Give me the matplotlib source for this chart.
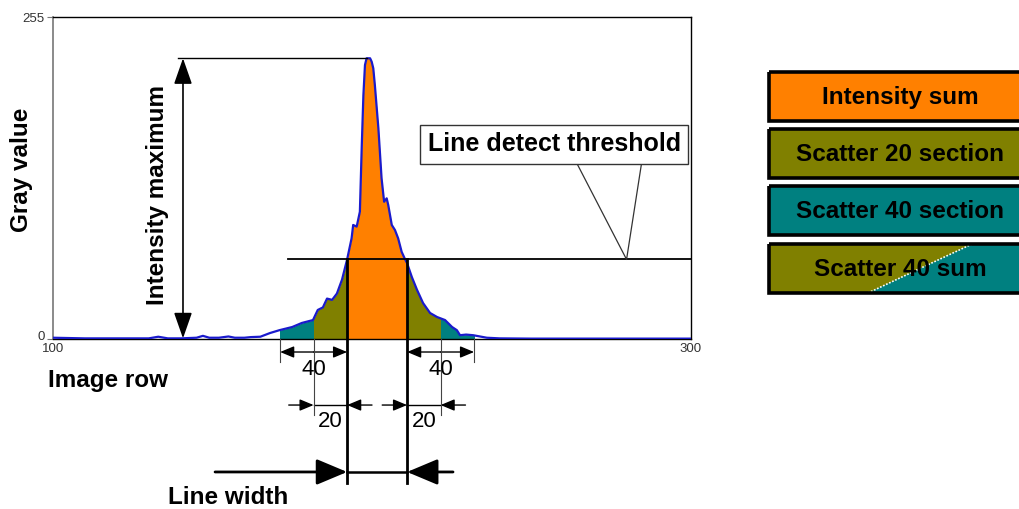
import numpy as np
import matplotlib
matplotlib.use("Agg")
import matplotlib.pyplot as plt
import matplotlib.transforms as mtransforms
from matplotlib.patches import Rectangle, Polygon

plt.rcParams['font.family'] = ['Liberation Sans', 'DejaVu Sans']

# ---------------- data ----------------
rows = [100, 110, 120, 130, 133, 136, 140, 145, 147, 149, 152, 155, 157, 160, 162,
        165, 168, 171, 175, 178, 181.5, 183, 184.6, 185.9, 187.5, 189, 190.6, 192.2,
        193.6, 194.1, 195.2, 196.2, 196.8, 197.3, 197.8, 198.3, 199.4, 199.9, 200.4,
        200.9, 202.0, 203.0, 203.8, 204.6, 205.1, 206.2, 207.2, 208.2, 209.3, 210.3,
        211, 212.5, 214.1, 216, 218.2,
        220.4, 222.9, 225.1, 226.6, 227.6, 229.5, 231.7, 236, 240, 250, 260, 280, 300]
gray = [1, 0.5, 0.5, 0.5, 1.8, 0.5, 0.5, 1, 2.5, 1, 1, 2, 1, 1, 1.5,
        1.8, 4.7, 7, 9.5, 12.7, 15, 23, 25, 32, 31, 36, 47, 63,
        79.7, 90.3, 89, 100.8, 153.6, 193, 217, 222.3, 222.3, 219.6, 214.4,
        201, 166.9, 127.3, 108.7, 111.4, 106, 90.3, 86.3, 79.7, 69, 63.5,
        60, 49, 39, 28.5, 20.6,
        17.4, 15, 9.5, 7, 3, 3.5, 3, 1, 0.5, 0.3, 0.3, 0.3, 0.3]

threshold = 63
line_left, line_right = 192.2, 211.0
sec20 = 10.5
sec40 = 21.0
sec_labels = ["20", "40"]
x_ticks = [100, 300]
y_ticks = [0, 255]

legend_labels = ["Intensity sum", "Scatter 20 section", "Scatter 40 section", "Scatter 40 sum"]
c_orange, c_olive, c_teal = "#FF8000", "#808000", "#008080"
curve_color = "#1a1acc"

# ---------------- figure ----------------
W, H = 1019, 509
fig = plt.figure(figsize=(W / 100, H / 100), dpi=100)
ax = fig.add_axes([53 / W, (H - 339) / H, 638 / W, 322 / H])
ax.set_xlim(100, 300)
ax.set_ylim(0, 255)

# filled regions under the curve, clipped to sections
regions = [
    (line_left - sec40, line_left - sec20, c_teal),
    (line_left - sec20, line_left, c_olive),
    (line_left, line_right, c_orange),
    (line_right, line_right + sec20, c_olive),
    (line_right + sec20, line_right + sec40, c_teal),
]
for x0, x1, col in regions:
    poly = ax.fill_between(rows, 0, gray, color=col, lw=0, zorder=2)
    rect = Rectangle((x0, 0), x1 - x0, 260, transform=ax.transData)
    poly.set_clip_path(rect)

ax.plot(rows, gray, color=curve_color, lw=1.6, zorder=4)

# spines / ticks
for s in ["top", "right", "bottom"]:
    ax.spines[s].set_color("black")
    ax.spines[s].set_linewidth(1.0)
ax.spines["left"].set_color("#777777")
ax.spines["left"].set_linewidth(1.2)
ax.set_xticks(x_ticks)
ax.set_yticks(y_ticks)
ax.tick_params(axis="x", length=0, pad=3, labelsize=9.5, labelcolor="#333333")
ax.tick_params(axis="y", length=4, width=0.8, color="#777777", pad=2, labelsize=9.5,
               labelcolor="#333333")
lab0 = ax.get_yticklabels()[0]
lab0.set_transform(lab0.get_transform() +
                   mtransforms.ScaledTranslation(0, 3 / 100, fig.dpi_scale_trans))

bold = dict(fontsize=17.5, fontweight="bold", color="black")

# threshold line & line-width verticals
ax.plot([173.7, 300], [threshold, threshold], color="black", lw=1.3, zorder=5, clip_on=False)
for xe in (line_left, line_right):
    ax.plot([xe, xe], [threshold, -114], color="black", lw=2.0, zorder=6, clip_on=False)

# intensity maximum
peak = max(gray)
peak_x = rows[int(np.argmax(gray))]
ax.plot([139.2, peak_x], [peak, peak], color="black", lw=1.0, zorder=5)
ax.annotate("", xy=(140.75, 0.5), xytext=(140.75, peak), annotation_clip=False,
            arrowprops=dict(arrowstyle="<|-|>,head_length=0.8,head_width=0.28",
                            mutation_scale=20, lw=1.2, color="black", shrinkA=0, shrinkB=0))
ax.text(132.9, 114, "Intensity maximum", rotation=90, ha="center", va="center", **bold)

# line detect threshold callout
ax.text(257.1, 154.4, "Line detect threshold", ha="center", va="center", zorder=7,
        fontsize=18, fontweight="bold", color="black",
        bbox=dict(boxstyle="square,pad=0.3", fc="white", ec="#333333", lw=1.0))
ax.plot([264.2, 279.8, 284.5], [139.2, threshold, 139.2], color="#333333", lw=0.9,
        zorder=5, clip_on=False)


def arrow(x0, y0, x1, y1, hl=0.6, hw=0.25, ms=14, lw=1.0):
    ax.annotate("", xy=(x1, y1), xytext=(x0, y0), annotation_clip=False,
                arrowprops=dict(arrowstyle=f"-|>,head_length={hl},head_width={hw}",
                                mutation_scale=ms, lw=lw, color="black",
                                shrinkA=0, shrinkB=0))


ext_kw = dict(color="#444444", lw=0.8, zorder=5, clip_on=False)
y40, y20, ylw = -10.3, -52.3, -105.3
# 40 sections (left / right)
for a, b in ((line_left - sec40, line_left), (line_right, line_right + sec40)):
    ext = a if a < line_left else b
    ax.plot([ext, ext], [0, -18.2], **ext_kw)
    mid = (a + b) / 2
    arrow(mid, y40, a, y40)
    arrow(mid, y40, b, y40)
    ax.text(mid, -24.5, sec_labels[1], ha="center", va="center", fontsize=16, zorder=6)
# 20 sections
for a, b in ((line_left - sec20, line_left), (line_right, line_right + sec20)):
    ext = a if a < line_left else b
    ax.plot([ext, ext], [0, -60.2], **ext_kw)
    ax.plot([a, b], [y20, y20], color="black", lw=1.0, clip_on=False)
    arrow(a - 7.8, y20, a, y20)
    arrow(b + 7.8, y20, b, y20)
    ax.text((a + b) / 2, -65.7, sec_labels[0], ha="center", va="center", fontsize=16, zorder=6)

# line width arrows
ax.plot([line_left, line_right], [ylw, ylw], color="black", lw=1.8, clip_on=False)
arrow(150.8, ylw, line_left, ylw, hl=1.0, hw=0.42, ms=19, lw=2.0)
arrow(225.4, ylw, line_right, ylw, hl=1.0, hw=0.42, ms=19, lw=2.0)

# ---------------- overlay (labels and legend boxes) ----------------
ov = fig.add_axes([0, 0, 1, 1], facecolor="none")
ov.set_xlim(0, W)
ov.set_ylim(H, 0)
ov.axis("off")

ov.text(22, 170, "Gray value", rotation=90, ha="center", va="center", **bold)
ov.text(48, 380, "Image row", ha="left", va="center", **bold)
ov.text(228, 497, "Line width", ha="center", va="center", **bold)

box_tops = [72, 129, 186, 244]
box_h = 49
box_colors = [c_orange, c_olive, c_teal, c_olive]
for lab, top, col in zip(legend_labels, box_tops, box_colors):
    ov.add_patch(Rectangle((769, top), 300, box_h, fc=col, ec="none", zorder=2))
    if lab == "Scatter 40 sum":
        ov.add_patch(Polygon([(868, top + box_h), (972, top), (1069, top),
                              (1069, top + box_h)], closed=True, fc=c_teal,
                             ec="none", zorder=3))
        ov.plot([868, 972], [top + box_h, top], color="white", lw=1.2, ls=(0, (1, 1)),
                zorder=4)
    ov.add_patch(Rectangle((769, top), 300, box_h, fc="none", ec="black", lw=2.6, zorder=5))
    ov.text(900, top + box_h / 2 + 1, lab, ha="center", va="center", zorder=6, **bold)

fig.savefig("out.png", dpi=100)
